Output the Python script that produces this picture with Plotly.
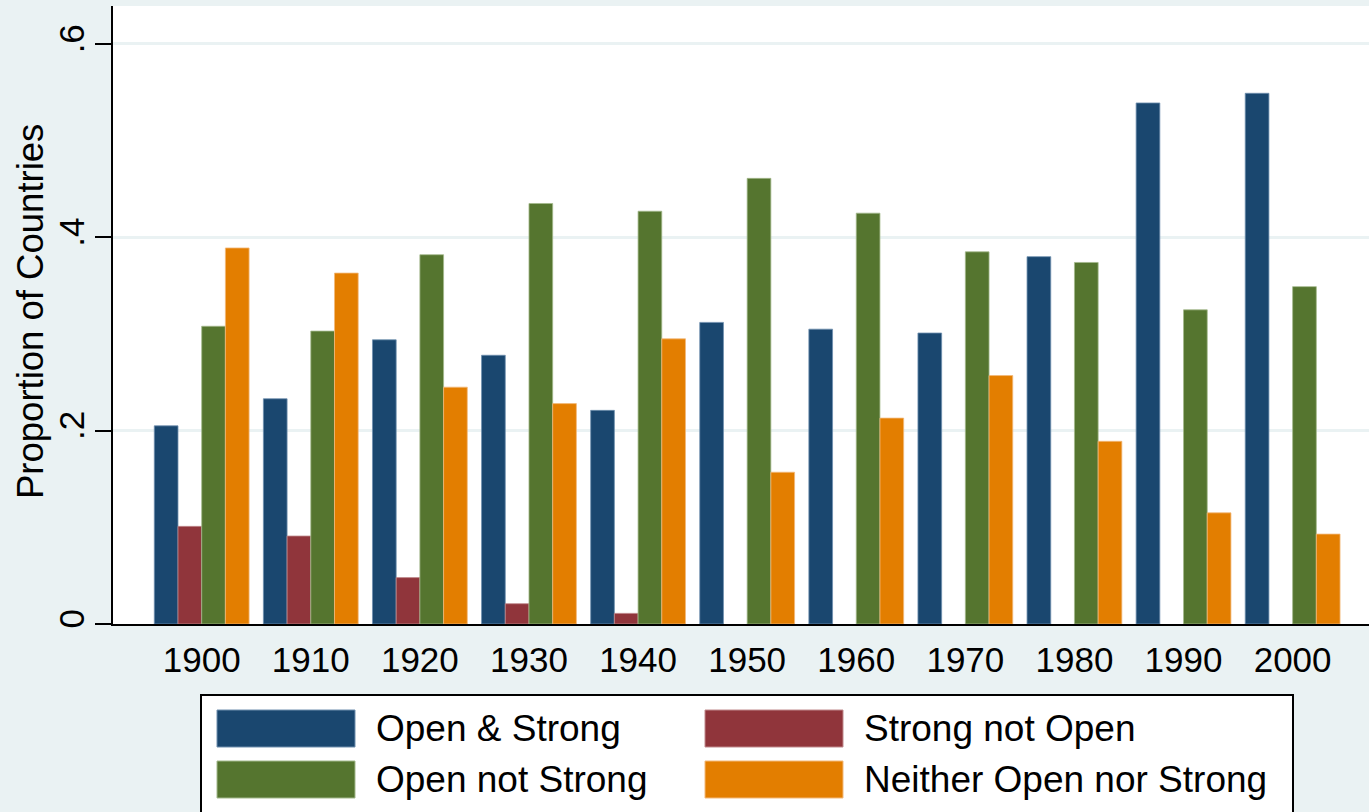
import plotly.graph_objects as go

years = ["1900", "1910", "1920", "1930", "1940", "1950", "1960", "1970", "1980", "1990", "2000"]
open_strong = [0.205, 0.233, 0.294, 0.278, 0.221, 0.312, 0.305, 0.301, 0.380, 0.539, 0.549]
strong_not_open = [0.101, 0.091, 0.048, 0.021, 0.011, None, None, None, None, None, None]
open_not_strong = [0.308, 0.303, 0.382, 0.435, 0.427, 0.461, 0.425, 0.385, 0.374, 0.325, 0.349]
neither = [0.389, 0.363, 0.245, 0.228, 0.295, 0.157, 0.213, 0.257, 0.189, 0.115, 0.093]

series_names = ["Open & Strong", "Strong not Open", "Open not Strong", "Neither Open nor Strong"]
series_values = [open_strong, strong_not_open, open_not_strong, neither]
colors = ["#1a476f", "#90353b", "#55752f", "#e37e00"]
outline = ["#6f8fae", "#c08a8d", "#a3b98c", "#f3b97a"]
y_title = "Proportion of Countries"

W, H = 1369, 812
ML, MR, MT, MB = 113, 0, 6, 188
FONT = "Liberation Sans, Arial, sans-serif"

fig = go.Figure()
for name, vals, c, oc in zip(series_names, series_values, colors, outline):
    fig.add_trace(go.Bar(x=years, y=vals, name=name, marker=dict(color=c, line=dict(color=oc, width=0.8)),
                         showlegend=False))

fig.update_layout(
    width=W, height=H,
    margin=dict(l=ML, r=MR, t=MT, b=MB, pad=0),
    paper_bgcolor="#eaf2f3",
    plot_bgcolor="#ffffff",
    barmode="group", bargap=0.131, bargroupgap=0,
    font=dict(family=FONT, color="#000000", size=35),
    xaxis=dict(type="category", range=[-0.813, 10.70], showgrid=False, showline=True,
               linecolor="#000000", linewidth=2, ticks="", tickfont=dict(size=35),
               ticklabelstandoff=4, zeroline=False),
    yaxis=dict(range=[0, 0.6393], tickvals=[0, 0.2, 0.4, 0.6], ticktext=["0", ".2", ".4", ".6"],
               tickangle=-90, ticks="outside", ticklen=16, tickwidth=2, tickcolor="#000000",
               showline=True, linecolor="#000000", linewidth=2, showgrid=True,
               gridcolor="#eaf2f3", gridwidth=3, zeroline=False, tickfont=dict(size=35),
               ticklabelstandoff=-3),
)

def px(x):
    return (x - ML) / (W - ML - MR)

def py(y):
    return (H - MB - y) / (H - MT - MB)

# y-axis title
fig.add_annotation(xref="paper", yref="paper", x=px(30), y=py(312), text=y_title, textangle=-90,
                   showarrow=False, xanchor="center", yanchor="middle",
                   font=dict(size=36.5, family=FONT, color="#000000"))

# custom legend (big swatches like the original)
fig.add_shape(type="rect", xref="paper", yref="paper", x0=px(201), x1=px(1293), y0=py(695), y1=py(830),
              line=dict(color="#000000", width=2), fillcolor="#ffffff", layer="above")
col_x = [217, 705]
row_y = [710, 761]
sw_w, sw_h = 138, 37
for i, (name, c, oc) in enumerate(zip(series_names, colors, outline)):
    cx = col_x[i % 2]
    ry = row_y[i // 2]
    fig.add_shape(type="rect", xref="paper", yref="paper", x0=px(cx), x1=px(cx + sw_w),
                  y0=py(ry + sw_h), y1=py(ry), fillcolor=c, line=dict(color=oc, width=1), layer="above")
    fig.add_annotation(xref="paper", yref="paper", x=px(cx + sw_w + 19), y=py(ry + sw_h / 2),
                       text=name, showarrow=False, xanchor="left", yanchor="middle",
                       font=dict(size=37, family=FONT, color="#000000"))

fig.write_html("out.html", config={"displayModeBar": False},
               post_script="document.body.style.margin='0px';document.body.style.overflow='hidden';")
